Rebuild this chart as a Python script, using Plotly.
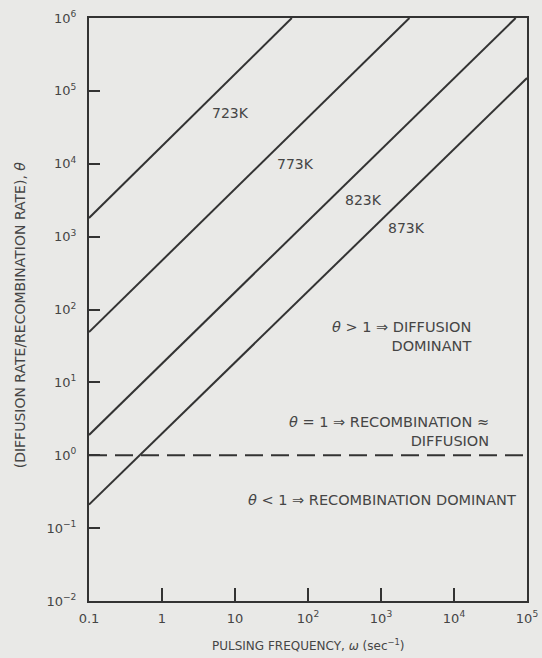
import math
import plotly.graph_objects as go

# ---- data ----
temps = ["723K", "773K", "823K", "873K"]
omega_start = [0.1, 0.1, 0.1, 0.1]
omega_end = [60, 2450, 70000, 1e5]
theta_start = [1800, 49, 1.9, 0.21]
theta_end = [1e6, 1e6, 1e6, 1.5e5]
label_omega = [8.6, 68, 575, 2240]
label_theta = [5.0e4, 1.0e4, 3.2e3, 1.3e3]

x_tickvals = [0.1, 1, 10, 1e2, 1e3, 1e4, 1e5]
x_ticktext = ["0.1", "1", "10", "10<sup>2</sup>", "10<sup>3</sup>", "10<sup>4</sup>", "10<sup>5</sup>"]
y_tickvals = [1e-2, 1e-1, 1, 1e1, 1e2, 1e3, 1e4, 1e5, 1e6]
y_ticktext = ["10<sup>−2</sup>", "10<sup>−1</sup>", "10<sup>0</sup>", "10<sup>1</sup>", "10<sup>2</sup>",
              "10<sup>3</sup>", "10<sup>4</sup>", "10<sup>5</sup>", "10<sup>6</sup>"]

region_text = ["<i>θ</i> > 1 ⇒ DIFFUSION<br>DOMINANT",
               "<i>θ</i> = 1 ⇒ RECOMBINATION ≈<br>DIFFUSION",
               "<i>θ</i> < 1 ⇒ RECOMBINATION DOMINANT"]
region_omega = [1.82e4, 3.24e4, 7.6e4]
region_theta = [42, 2.15, 0.245]

INK = "#333333"
TXT = "#454545"
BG = "#e9e9e7"
FONT = "DejaVu Sans, Verdana, sans-serif"

fig = go.Figure()
for i, t in enumerate(temps):
    fig.add_trace(go.Scatter(
        x=[omega_start[i], omega_end[i]], y=[theta_start[i], theta_end[i]],
        mode="lines", line=dict(color=INK, width=2), showlegend=False, hoverinfo="skip"))
    fig.add_annotation(x=math.log10(label_omega[i]), y=math.log10(label_theta[i]),
                       text=t, showarrow=False, font=dict(size=14, color=TXT, family=FONT))

# theta = 1 dashed line
fig.add_trace(go.Scatter(x=[x_tickvals[0], x_tickvals[-1]], y=[1, 1], mode="lines",
                         line=dict(color=INK, width=2, dash="18px,8px"),
                         showlegend=False, hoverinfo="skip"))

for txt, xo, yt in zip(region_text, region_omega, region_theta):
    fig.add_annotation(x=math.log10(xo), y=math.log10(yt), text=txt, showarrow=False,
                       xanchor="right", align="right",
                       font=dict(size=14.5, color=TXT, family=FONT))

fig.add_annotation(xref="paper", yref="paper", x=0.5, y=0, yshift=-44,
                   text="PULSING FREQUENCY, <i>ω</i> (sec<sup>−1</sup>)", showarrow=False,
                   yanchor="middle", font=dict(size=12, color=TXT, family=FONT))
fig.add_annotation(xref="paper", yref="paper", x=0, xshift=-69, y=0.49,
                   text="(DIFFUSION RATE/RECOMBINATION RATE), <i>θ</i>", showarrow=False,
                   textangle=-90, xanchor="center", yanchor="middle",
                   font=dict(size=14, color=TXT, family=FONT))

axis_common = dict(showgrid=False, zeroline=False, showline=True, linecolor=INK, linewidth=2,
                   mirror=True, ticks="inside", tickcolor=INK, tickwidth=2, automargin=False,
                   tickfont=dict(size=13, color=TXT, family=FONT))
fig.update_xaxes(type="log", range=[-1, 5], tickvals=x_tickvals, ticktext=x_ticktext,
                 ticklen=13, ticklabelstandoff=4, **axis_common)
fig.update_yaxes(type="log", range=[-2, 6], tickvals=y_tickvals, ticktext=y_ticktext,
                 ticklen=11, ticklabelstandoff=8, **axis_common)

fig.update_layout(width=542, height=658, margin=dict(l=89, r=15, t=18, b=57),
                  paper_bgcolor=BG, plot_bgcolor=BG, showlegend=False,
                  font=dict(family=FONT, color=TXT))

fig.write_html("out.html",
               config={"displayModeBar": False, "responsive": False},
               post_script="document.body.style.margin='0';document.body.style.overflow='hidden';"
                           "document.body.style.background='#e9e9e7';")
